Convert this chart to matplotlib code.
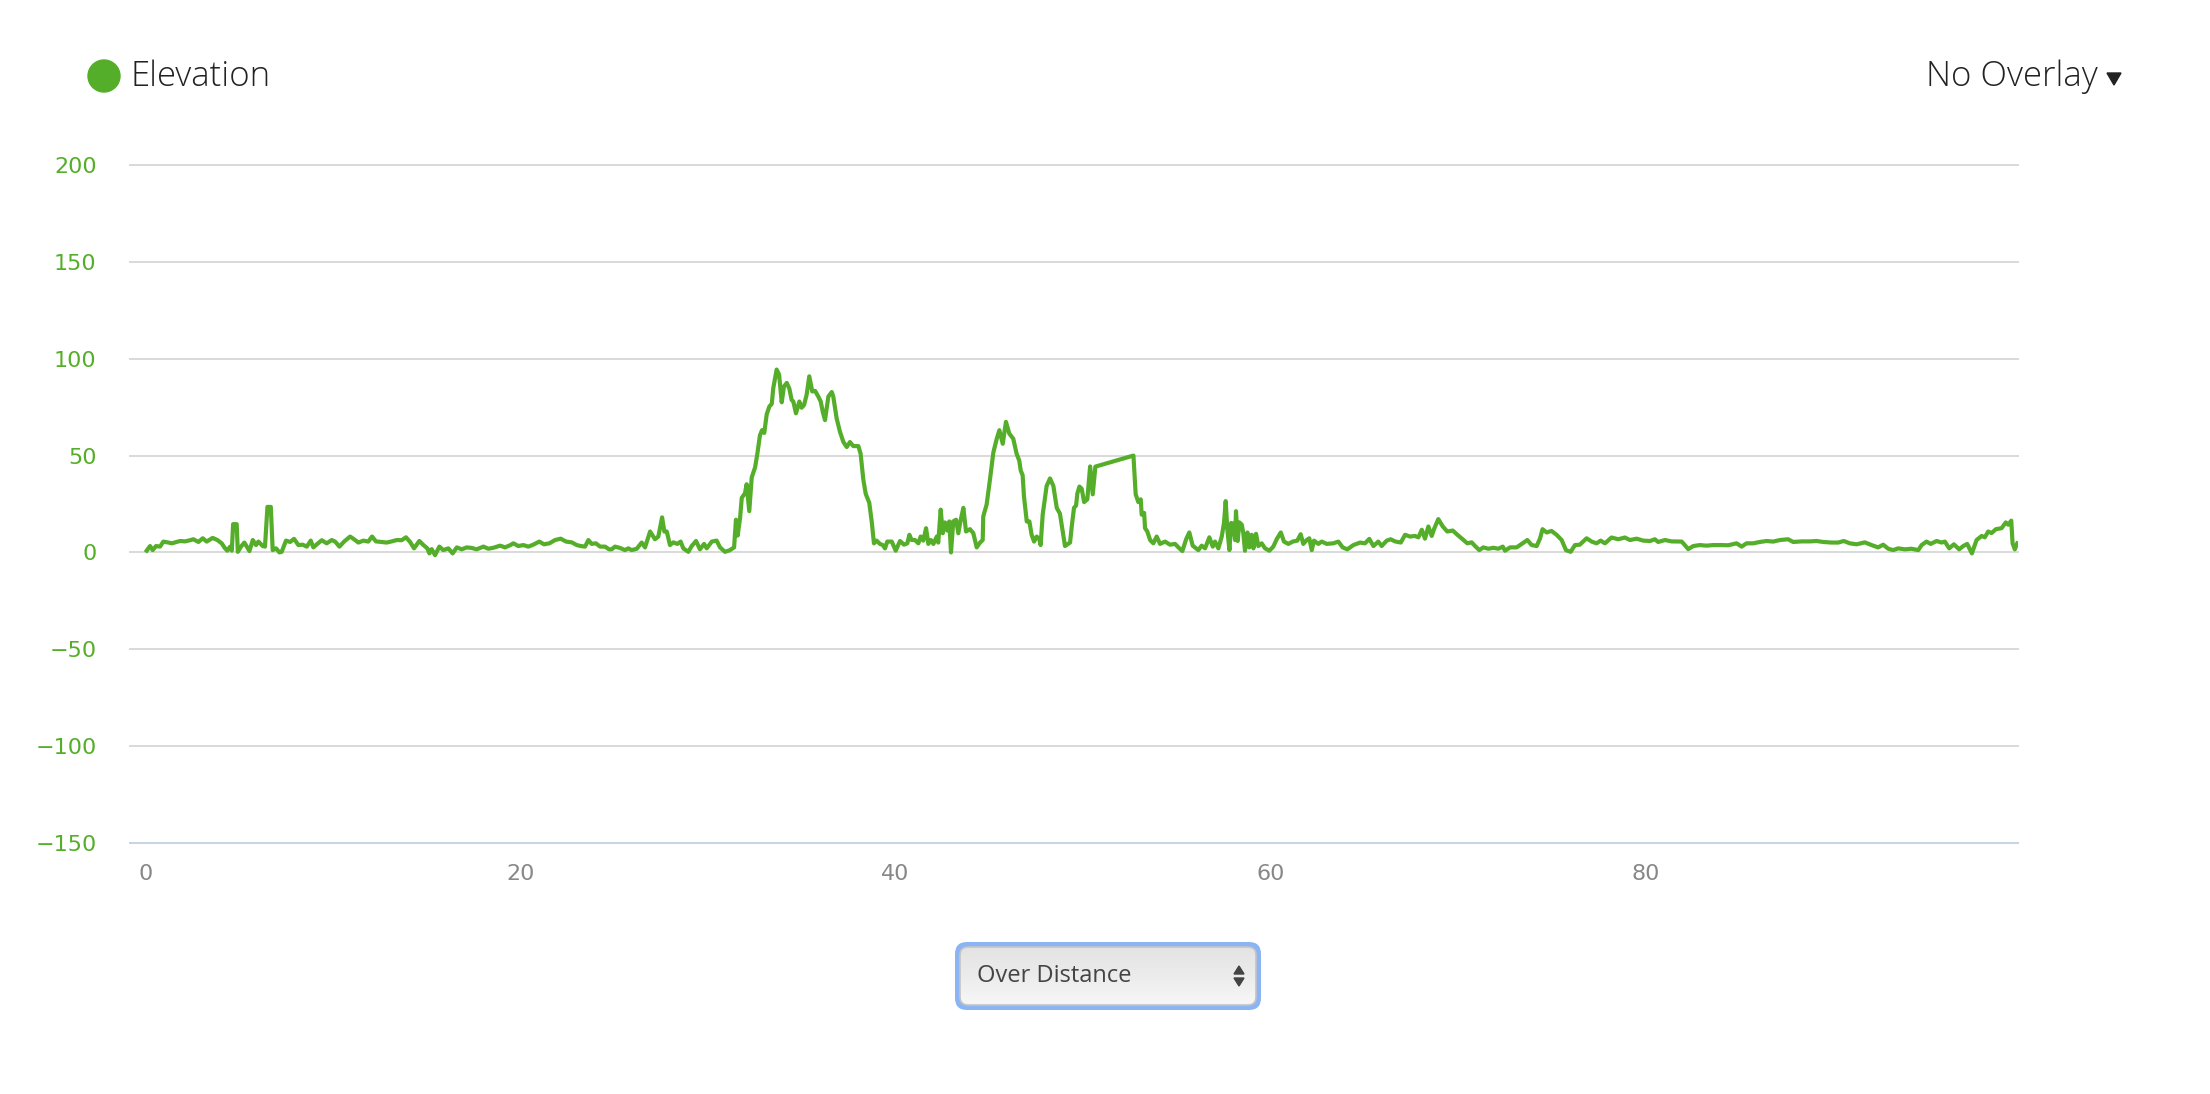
import matplotlib
matplotlib.use("Agg")
import matplotlib.pyplot as plt
import numpy as np
from matplotlib.patches import FancyBboxPatch, Circle, Polygon
from matplotlib.colors import LinearSegmentedColormap

# distance (x) and elevation (y)
dist = [0.06, 0.24, 0.38, 0.56, 0.77, 0.95, 1.22, 1.40, 1.66, 1.84, 2.11, 2.37, 2.55, 2.82, 3.05, 3.26,
        3.58, 3.83, 4.06, 4.24, 4.36, 4.51, 4.60, 4.67, 4.86, 4.92, 5.09, 5.27, 5.40, 5.54, 5.72, 5.89,
        6.02, 6.25, 6.37, 6.50, 6.68, 6.78, 6.96, 7.14, 7.26, 7.49, 7.71, 7.92, 8.15, 8.38, 8.60, 8.81,
        8.95, 9.16, 9.40, 9.66, 9.93, 10.11, 10.34, 10.59, 10.91, 11.12, 11.35, 11.62, 11.88, 12.08,
        12.29, 12.60, 12.86, 13.13, 13.40, 13.66, 13.89, 14.11, 14.32, 14.60, 14.82, 15.03, 15.14,
        15.26, 15.44, 15.67, 15.88, 16.15, 16.38, 16.60, 16.86, 17.13, 17.40, 17.66, 18.02, 18.28,
        18.55, 18.91, 19.17, 19.44, 19.62, 19.88, 20.15, 20.42, 20.68, 21.00, 21.25, 21.54, 21.84,
        22.14, 22.43, 22.73, 23.00, 23.21, 23.44, 23.62, 23.79, 24.02, 24.24, 24.51, 24.72,
        24.86, 25.04, 25.31, 25.57, 25.75, 25.93, 26.20, 26.46, 26.64, 26.91, 27.17, 27.35, 27.55,
        27.67, 27.80, 27.97, 28.15, 28.36, 28.54, 28.68, 28.95, 29.13, 29.36, 29.57, 29.79, 29.93,
        30.20, 30.46, 30.64, 30.91, 31.17, 31.39, 31.49, 31.58, 31.71, 31.80, 31.97, 32.06, 32.20,
        32.33, 32.51, 32.63, 32.77, 32.88, 33.00, 33.13, 33.27, 33.40, 33.48, 33.66, 33.79, 33.93,
        34.05, 34.20, 34.34, 34.46, 34.55, 34.69, 34.87, 34.99, 35.12, 35.26, 35.40, 35.56, 35.71,
        35.88, 36.01, 36.12, 36.24, 36.42, 36.60, 36.68, 36.86, 37.04, 37.22, 37.40, 37.57, 37.75,
        38.02, 38.14, 38.28, 38.41, 38.60, 38.73, 38.85, 38.99, 39.17, 39.32, 39.44, 39.56, 39.80,
        40.01, 40.24, 40.45, 40.63, 40.74, 40.86, 41.04, 41.22, 41.34, 41.48, 41.63, 41.75, 41.89,
        42.02, 42.20, 42.28, 42.41, 42.52, 42.64, 42.76, 42.87, 42.96, 43.08, 43.23, 43.35, 43.48,
        43.62, 43.76, 43.97, 44.15, 44.33, 44.51, 44.65, 44.68, 44.86, 45.04, 45.22, 45.40, 45.54,
        45.72, 45.89, 46.07, 46.28, 46.46, 46.60, 46.68, 46.78, 46.85, 47.00, 47.14, 47.26, 47.39,
        47.53, 47.67, 47.74, 47.85, 48.06, 48.24, 48.42, 48.60, 48.77, 49.04, 49.31,
        49.40, 49.52, 49.63, 49.70, 49.81, 49.93, 50.06, 50.23, 50.38, 50.52, 50.66, 52.69, 52.81,
        52.95, 53.08, 53.13, 53.26, 53.31, 53.43, 53.58, 53.75, 53.93, 54.11, 54.38, 54.64, 54.91,
        55.09, 55.30, 55.50, 55.67, 55.85, 56.15, 56.33, 56.51, 56.74, 56.92, 57.04, 57.22, 57.40,
        57.52, 57.61, 57.70, 57.81, 57.90, 58.02, 58.11, 58.16, 58.25, 58.34, 58.47, 58.55, 58.64,
        58.77, 58.87, 59.00, 59.09, 59.23, 59.35, 59.53, 59.71, 59.94, 60.15, 60.33, 60.55, 60.72,
        60.95, 61.19, 61.43, 61.61, 61.75, 61.93, 62.07, 62.20, 62.32, 62.55, 62.73, 63.00, 63.35,
        63.62, 63.85, 64.10, 64.42, 64.78, 65.04, 65.27, 65.49, 65.75, 65.93, 66.20, 66.41, 66.64,
        66.95, 67.18, 67.44, 67.71, 67.89, 68.07, 68.24, 68.42, 68.60, 68.72, 68.95, 69.19, 69.43,
        69.72, 69.97, 70.25, 70.50, 70.73, 70.91, 71.14, 71.35, 71.62, 71.89, 72.15, 72.39, 72.51,
        72.78, 73.13, 73.40, 73.70, 73.93, 74.20, 74.38,
        74.51, 74.73, 74.99, 75.26, 75.53, 75.76, 76.01, 76.24, 76.50, 76.86, 77.13, 77.39, 77.61,
        77.84, 78.19, 78.55, 78.90, 79.17, 79.53, 79.88, 80.24, 80.50, 80.68, 81.04, 81.39, 81.93,
        82.10, 82.28, 82.55, 82.90, 83.26, 83.61, 84.06, 84.41, 84.86, 85.13, 85.39, 85.75, 86.10,
        86.46, 86.81, 87.17, 87.61, 87.88, 88.33, 88.77, 89.13, 89.48, 89.93, 90.28, 90.58, 90.90,
        91.26, 91.70, 92.06, 92.41, 92.68, 92.95, 93.21, 93.48, 93.84, 94.19, 94.55, 94.73, 94.99,
        95.21, 95.53, 95.79, 95.97, 96.20, 96.45, 96.73, 96.95, 97.16, 97.41, 97.66, 97.93, 98.10,
        98.28, 98.46, 98.69, 98.99, 99.22, 99.35, 99.51, 99.58, 99.70, 99.83]

elev = [0.9, 3.3, 1.2, 3.3, 3.0, 5.6, 5.1, 4.7, 5.4, 5.9, 5.7, 6.3, 6.8, 5.4, 7.3, 5.6,
        7.5, 6.4, 4.7, 2.1, 0.9, 3.0, 0.9, 14.6, 14.6, 0.3, 3.0, 5.1, 3.0, 0.7, 6.4, 3.8,
        5.6, 3.3, 3.0, 23.5, 23.5, 1.2, 2.1, 0.0, 0.3, 6.1, 5.4, 7.0, 3.8, 4.0, 3.0, 6.1,
        2.6, 4.4, 6.3, 4.7, 6.4, 5.6, 3.0, 5.6, 8.2, 6.8, 5.1, 6.1, 5.6, 8.2,
        5.7, 5.4, 5.1, 5.7, 6.4, 6.3, 7.8, 5.4, 2.1, 5.9, 3.8, 2.1, -0.5,
        1.7, -1.4, 3.0, 1.2, 2.1, -0.5, 2.6, 1.6, 2.6, 2.3, 1.6, 3.0, 1.9,
        2.4, 3.5, 2.6, 3.7, 4.7, 3.3, 3.8, 3.0, 4.0, 5.6, 4.2, 4.7, 6.4,
        7.1, 5.6, 5.2, 3.8, 3.3, 3.0, 6.4, 4.4, 4.7, 3.0, 3.0, 1.6,
        1.6, 3.0, 2.3, 1.2, 2.1, 1.2, 1.9, 5.1, 2.6, 10.8, 6.8, 8.2, 18.1,
        10.8, 10.8, 3.8, 5.2, 4.4, 5.6, 2.1, 0.3, 3.3, 5.9, 1.6, 4.4, 2.1,
        5.6, 6.1, 2.6, 0.3, 1.2, 2.6, 16.9, 8.7, 17.8, 28.2, 30.5, 35.2, 21.3,
        38.7, 43.9, 50.9, 60.5, 63.1, 61.7, 71.3, 75.3, 76.7, 84.8, 94.4, 91.8, 77.5,
        85.7, 87.5, 84.5, 78.7, 77.9, 71.8, 77.9, 74.7, 76.1, 81.4, 90.9, 83.1, 83.4,
        80.5, 77.9, 72.6, 68.3, 80.5, 82.8, 80.5, 69.2, 62.2, 57.0, 54.4, 57.0, 54.9,
        54.9, 50.9, 37.8, 30.3, 25.6, 16.0, 4.7, 6.1, 4.4, 3.8, 2.1, 5.6, 5.6,
        0.9, 5.9, 4.0, 4.7, 9.1, 6.4, 6.4, 4.7, 8.2, 6.1, 12.5, 4.4, 6.4,
        4.4, 8.2, 5.1, 22.1, 9.9, 15.5, 11.3, 16.0, 0.0, 16.0, 16.9, 9.9, 16.9,
        23.0, 10.8, 12.0, 9.9, 2.6, 5.1, 6.4, 18.6, 24.7, 37.8, 51.7, 58.7, 63.1,
        56.1, 67.4, 61.3, 58.7, 50.9, 47.4, 42.2, 39.9, 29.1, 16.0, 16.0, 9.1, 5.6,
        8.2, 6.8, 3.8, 19.5, 34.3, 38.2, 34.3, 23.0, 20.0, 3.3, 5.1,
        13.4, 23.0, 24.2, 30.5, 34.0, 32.9, 26.0, 27.4, 44.4, 30.0, 44.3, 50.0, 30.0,
        26.0, 27.4, 19.5, 20.4, 12.5, 10.8, 6.4, 4.7, 8.2, 4.4, 5.6, 4.0, 4.4,
        2.6, 0.7, 6.8, 10.3, 3.5, 1.2, 3.5, 2.1, 7.8, 3.0, 5.6, 2.1, 8.2,
        15.2, 26.5, 11.7, 1.2, 15.2, 14.8, 6.4, 21.3, 5.9, 15.5, 14.3, 9.9, 0.9,
        10.3, 2.6, 9.1, 2.1, 9.6, 3.3, 4.7, 2.1, 0.9, 3.0, 6.8, 10.3, 5.6,
        4.4, 5.6, 6.1, 9.4, 4.4, 6.4, 7.3, 1.2, 6.1, 4.4, 5.6, 4.4, 4.7,
        5.6, 2.6, 1.6, 3.8, 5.1, 4.7, 7.0, 3.3, 5.6, 3.3, 6.1, 6.8, 5.7,
        5.1, 9.1, 8.2, 8.5, 7.8, 11.7, 7.1, 13.4, 8.5, 12.0, 17.2, 13.4, 10.8,
        11.3, 9.1, 6.8, 4.7, 5.2, 3.3, 1.2, 2.6, 1.9, 2.4, 1.9, 3.0, 0.9,
        2.6, 2.6, 4.4, 6.4, 3.8, 3.3, 7.3,
        12.0, 10.3, 11.1, 9.1, 6.4, 1.2, 0.3, 3.8, 4.0, 7.3, 5.6, 4.7, 6.1,
        4.7, 7.7, 6.8, 7.7, 6.4, 7.1, 6.1, 5.9, 6.8, 5.4, 6.4, 5.7, 5.6,
        3.8, 1.7, 3.3, 3.8, 3.5, 3.8, 3.8, 3.7, 4.7, 3.0, 4.7, 4.7, 5.4,
        5.9, 5.6, 6.4, 6.8, 5.4, 5.7, 5.7, 5.9, 5.4, 5.1, 5.1, 5.9, 4.7,
        4.2, 5.2, 3.8, 2.6, 4.0, 1.9, 1.2, 2.1, 1.6, 1.9, 1.2, 3.8, 5.6,
        4.4, 5.9, 5.1, 5.6, 2.1, 4.2, 1.6, 3.3, 4.4, -0.5, 6.4, 8.5, 7.8,
        10.8, 10.0, 12.0, 12.5, 15.5, 14.3, 16.4, 4.7, 1.6, 4.7]

y_ticks = [-150, -100, -50, 0, 50, 100, 150, 200]
x_ticks = [0, 20, 40, 60, 80]

green = '#55ae29'
W, H = 2210, 1094

fig = plt.figure(figsize=(W / 100, H / 100), dpi=100)
fig.patch.set_facecolor('white')

ax = fig.add_axes([130 / W, 1 - 843 / H, (2018 - 130) / W, (843 - 165) / H])
ax.set_xlim(-0.83, 99.87)
ax.set_ylim(-150, 200)
for s in ax.spines.values():
    s.set_visible(False)

for v in y_ticks:
    c = '#c6d3e4' if v == -150 else '#d9d9d9'
    ax.axhline(v, color=c, lw=1.4, clip_on=False, zorder=1)

ax.plot(dist, elev, color=green, lw=3.0, solid_joinstyle='round', zorder=3)

ax.set_yticks(y_ticks)
ax.set_xticks(x_ticks)
ax.tick_params(axis='y', length=0, pad=24, labelsize=16, labelcolor=green)
ax.tick_params(axis='x', length=0, pad=15, labelsize=16, labelcolor='#888888')

# overlay in pixel coordinates for the legend and the controls
ui = fig.add_axes([0, 0, 1, 1])
ui.set_xlim(0, W)
ui.set_ylim(H, 0)
ui.axis('off')

ui.add_patch(Circle((104, 76), 16, color=green))
ui.text(131, 77, 'Elevation', va='center', ha='left', fontsize=25,
        family='Open Sans', fontweight='light', color='#222222')

ui.text(2098, 77, 'No Overlay', va='center', ha='right', fontsize=25,
        family='Open Sans', fontweight='light', color='#222222')
ui.add_patch(Polygon([[2107, 73], [2121, 73], [2114, 85]], closed=True, color='#222222'))

# dropdown
outer = FancyBboxPatch((955, 942), 306, 68, boxstyle='round,pad=0,rounding_size=12',
                       fc='#8ab4f3', ec='none')
ui.add_patch(outer)
inner = FancyBboxPatch((960, 947), 296, 58, boxstyle='round,pad=0,rounding_size=8',
                       fc='none', ec='#c4c4c4', lw=1.2)
ui.add_patch(inner)
grad = np.linspace(0, 1, 100).reshape(-1, 1)
cmap = LinearSegmentedColormap.from_list('g', ['#e3e3e3', '#ececec', '#f7f7f7'])
im = ui.imshow(grad, extent=[960, 1256, 1005, 947], aspect='auto', cmap=cmap, zorder=1)
im.set_clip_path(inner)
inner.set_zorder(2)
ui.set_xlim(0, W)
ui.set_ylim(H, 0)
ui.text(977, 976, 'Over Distance', va='center', ha='left', fontsize=17,
        family='Open Sans', color='#444444', zorder=3)
ui.add_patch(Polygon([[1234, 974], [1244, 974], [1239, 966]], closed=True, color='#444444', zorder=3))
ui.add_patch(Polygon([[1234, 978], [1244, 978], [1239, 986]], closed=True, color='#444444', zorder=3))

fig.savefig('out.png', dpi=100)
